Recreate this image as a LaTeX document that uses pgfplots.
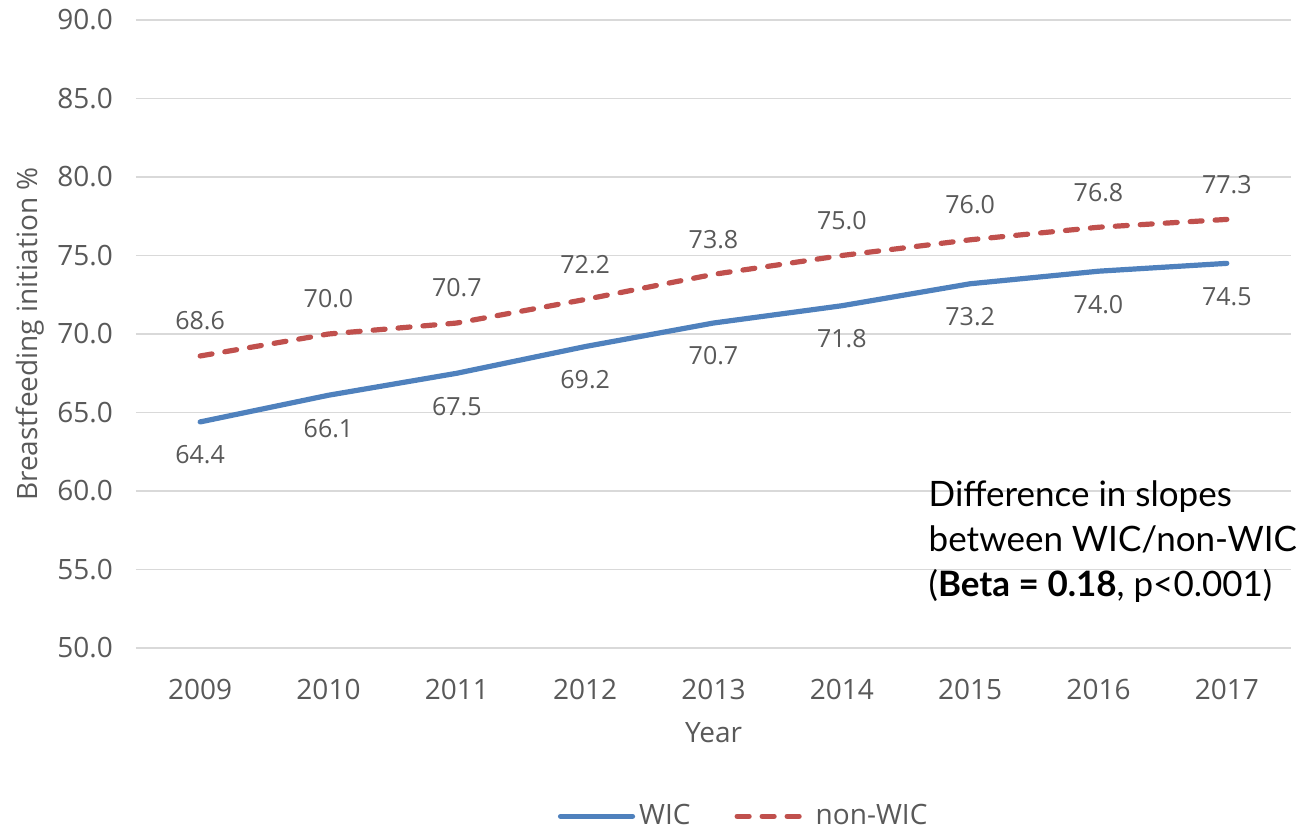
\documentclass[border=0pt]{standalone}
\usepackage{pgfplots}
\pgfplotsset{compat=1.18}
\usepackage{fontspec}
\setmainfont{Open Sans}
\newfontfamily\notefont{Lato}
\definecolor{wicblue}{HTML}{4F81BD}
\definecolor{nonwicred}{HTML}{C0504D}
\definecolor{gridgrey}{HTML}{D9D9D9}
\definecolor{textgrey}{HTML}{595959}

\begin{document}
\begin{tikzpicture}
\begin{axis}[
  scale only axis,
  width=577.5pt, height=314pt,
  at={(0,0)}, anchor=south west,
  xmin=-0.5, xmax=8.5,
  ymin=50, ymax=90,
  xtick={0,...,8},
  xticklabels={2009,2010,2011,2012,2013,2014,2015,2016,2017},
  ytick={50,55,...,90},
  yticklabel={\pgfmathprintnumber[fixed,fixed zerofill,precision=1]{\tick}},
  /pgf/number format/assume math mode=true,
  tick style={draw=none},
  axis line style={draw=none},
  ymajorgrids,
  grid style={gridgrey, line width=0.8pt},
  ticklabel style={font=\fontsize{14}{16}\selectfont, text=textgrey},
  xticklabel style={yshift=-12pt},
  yticklabel style={xshift=-8pt},
  xlabel={Year},
  ylabel={Breastfeeding initiation \%},
  label style={font=\fontsize{14}{16}\selectfont, text=textgrey},
  xlabel style={at={(axis description cs:0.5,-0.135)}, anchor=center},
  ylabel style={at={(axis description cs:-0.092,0.5)}, anchor=center, rotate=0},
  legend style={at={(axis description cs:0.527,-0.268)}, anchor=center,
    draw=none, fill=none, legend columns=2,
    font=\fontsize{14}{16}\selectfont, text=textgrey,
    /tikz/every even column/.append style={column sep=20pt}},
  legend image code/.code={\draw[#1] (0pt,0pt) -- (36pt,0pt);},
  nodes near coords,
  point meta=explicit symbolic,
  every node near coord/.append style={font=\fontsize{12.5}{14}\selectfont, text=textgrey},
  clip=false,
]
\addplot[wicblue, line width=2.6pt, line cap=round, line join=round,
  every node near coord/.append style={anchor=center, yshift=-16.5pt}]
  coordinates {(0,64.4)[64.4] (1,66.1)[66.1] (2,67.5)[67.5] (3,69.2)[69.2] (4,70.7)[70.7]
               (5,71.8)[71.8] (6,73.2)[73.2] (7,74.0)[74.0] (8,74.5)[74.5]};
\addlegendentry{WIC}
\addplot[nonwicred, line width=2.6pt, line cap=round, dash pattern=on 6pt off 6.5pt,
  every node near coord/.append style={anchor=center, yshift=17.5pt}]
  coordinates {(0,68.6)[68.6] (1,70.0)[70.0] (2,70.7)[70.7] (3,72.2)[72.2] (4,73.8)[73.8]
               (5,75.0)[75.0] (6,76.0)[76.0] (7,76.8)[76.8] (8,77.3)[77.3]};
\addlegendentry{non-WIC}
\node[anchor=north west, align=left, inner sep=0pt,
  font=\notefont\fontsize{17.5}{22.5}\selectfont]
  at (axis description cs:0.686,0.2675)
  {Difference in slopes\\between WIC/non-WIC\\(\textbf{Beta = 0.18}, p<0.001)};
\end{axis}
\path[use as bounding box] (-68pt,-91pt) rectangle (582pt,324pt);
\end{tikzpicture}
\end{document}
